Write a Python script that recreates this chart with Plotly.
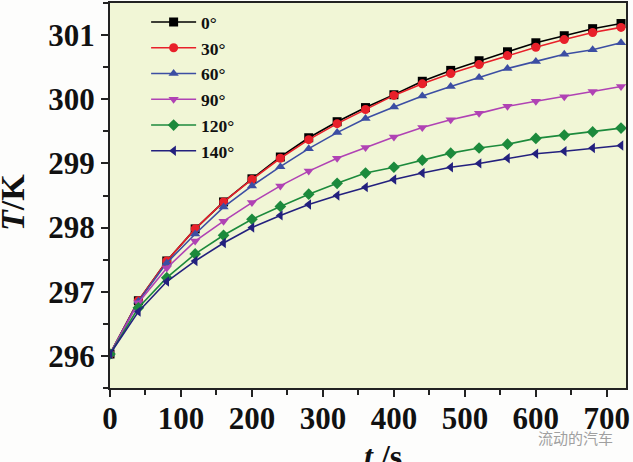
import plotly.graph_objects as go

t_s = [0, 40, 80, 120, 160, 200, 240, 280, 320, 360, 400, 440, 480, 520, 560, 600, 640, 680, 720]

T_0 = [296.03, 296.86, 297.48, 297.98, 298.40, 298.76, 299.10, 299.40, 299.65, 299.87,
       300.07, 300.28, 300.45, 300.60, 300.74, 300.88, 300.99, 301.10, 301.18]
T_30 = [296.03, 296.86, 297.48, 297.98, 298.40, 298.75, 299.08, 299.37, 299.62, 299.84,
        300.06, 300.24, 300.40, 300.54, 300.68, 300.81, 300.93, 301.04, 301.12]
T_60 = [296.03, 296.85, 297.45, 297.90, 298.32, 298.65, 298.95, 299.23, 299.48, 299.70,
        299.88, 300.05, 300.20, 300.34, 300.48, 300.59, 300.70, 300.77, 300.88]
T_90 = [296.03, 296.83, 297.37, 297.79, 298.10, 298.39, 298.65, 298.88, 299.08, 299.25,
        299.41, 299.56, 299.68, 299.78, 299.89, 299.97, 300.04, 300.12, 300.20]
T_120 = [296.03, 296.75, 297.22, 297.59, 297.88, 298.13, 298.33, 298.52, 298.69, 298.85,
         298.94, 299.05, 299.16, 299.24, 299.30, 299.39, 299.44, 299.49, 299.55]
T_140 = [296.03, 296.69, 297.16, 297.48, 297.76, 298.00, 298.19, 298.36, 298.50, 298.63,
         298.75, 298.85, 298.94, 299.00, 299.08, 299.15, 299.19, 299.24, 299.28]

series_names = ["0°", "30°", "60°", "90°", "120°", "140°"]
series_values = [T_0, T_30, T_60, T_90, T_120, T_140]
colors = ["#000000", "#e8202a", "#3c4ea3", "#b042b4", "#1c8a3c", "#23207e"]
symbols = ["square", "circle", "triangle-up", "triangle-down", "diamond", "triangle-left"]

x_ticks = [0, 100, 200, 300, 400, 500, 600, 700]
y_ticks = [296, 297, 298, 299, 300, 301]

FONT = "Liberation Serif"

fig = go.Figure()
for name, vals, c, s in zip(series_names, series_values, colors, symbols):
    fig.add_trace(go.Scatter(
        x=t_s, y=vals, name=name, mode="lines+markers",
        line=dict(color=c, width=1.6),
        marker=dict(symbol=s, size=9, color=c),
    ))

fig.update_layout(
    width=633, height=462,
    margin=dict(l=110, r=7, t=3, b=74),
    paper_bgcolor="#fdfdfc",
    plot_bgcolor="#f1f6d6",
    font=dict(family=FONT, color="#111111"),
    showlegend=True,
    legend=dict(
        x=0.07, y=0.997, xanchor="left", yanchor="top",
        bgcolor="rgba(0,0,0,0)", borderwidth=0,
        font=dict(family=FONT, size=17.5, color="#111111", weight="bold"),
        itemwidth=45, tracegroupgap=0,
    ),
    xaxis=dict(
        range=[0, 727], tickvals=x_ticks, ticktext=[str(v) for v in x_ticks],
        showgrid=False, zeroline=False, automargin=False,
        showline=True, linecolor="#222222", linewidth=2, mirror=True,
        ticks="outside", ticklen=7, tickwidth=2, tickcolor="#222222",
        ticklabelstandoff=-5,
        minor=dict(dtick=50, ticks="outside", ticklen=5, tickwidth=1.5, tickcolor="#222222"),
        tickfont=dict(family=FONT, size=31, color="#111111", weight="bold"),
    ),
    yaxis=dict(
        range=[295.5, 301.5], tickvals=y_ticks, ticktext=[str(v) for v in y_ticks],
        showgrid=False, zeroline=False, automargin=False,
        showline=True, linecolor="#222222", linewidth=2, mirror=True,
        ticks="outside", ticklen=7, tickwidth=2, tickcolor="#222222",
        minor=dict(dtick=0.5, ticks="outside", ticklen=5, tickwidth=1.5, tickcolor="#222222"),
        tickfont=dict(family=FONT, size=31, color="#111111", weight="bold"),
    ),
    annotations=[
        dict(text="<b><i>T</i>/K</b>", xref="paper", yref="paper",
             x=(13 - 110) / 516, y=(388 - 203) / 385, xanchor="center", yanchor="middle", textangle=-90,
             showarrow=False, font=dict(family=FONT, size=34, color="#111111")),
        dict(text="<b><i>t</i> /s</b>", xref="paper", yref="paper",
             x=(383 - 110) / 516, y=(388 - 456) / 385, xanchor="center", yanchor="middle",
             showarrow=False, font=dict(family=FONT, size=32, color="#111111")),
        dict(text="流动的汽车", xref="paper", yref="paper",
             x=(575 - 110) / 516, y=(388 - 437) / 385, xanchor="center", yanchor="middle",
             showarrow=False, font=dict(family="Noto Sans CJK SC", size=15, color="#a0a0a0")),
    ],
)

fig.write_html("out.html", config={"displayModeBar": False},
               post_script="document.body.style.margin='0';document.body.style.overflow='hidden';")
